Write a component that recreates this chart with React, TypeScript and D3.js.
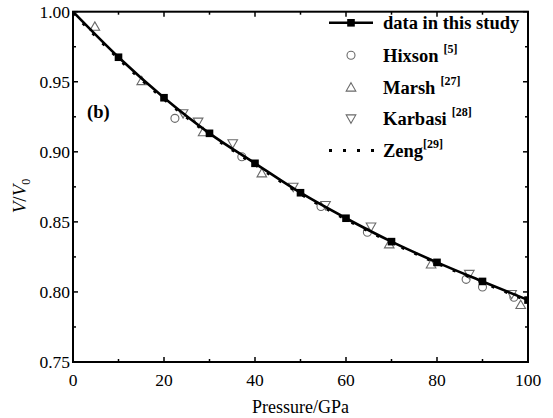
import React from "react";
import * as d3 from "d3";

const studyP = [0, 10, 20, 30, 40, 50, 60, 70, 80, 90, 100];
const studyV = [1.0, 0.9675, 0.9386, 0.9132, 0.8918, 0.8708, 0.8526, 0.8359, 0.8211, 0.8075, 0.7942];

const zengP = [0, 10, 20, 30, 40, 50, 60, 70, 80, 90, 100];
const zengV = [0.999, 0.9665, 0.9376, 0.9124, 0.8908, 0.8700, 0.8518, 0.8352, 0.8205, 0.8068, 0.7936];

const hixsonP = [22.4, 37.1, 54.5, 64.7, 86.4, 90.0, 96.9];
const hixsonV = [0.9239, 0.8965, 0.861, 0.8426, 0.809, 0.8035, 0.7962];

const marshP = [4.8, 15.1, 28.6, 41.5, 69.5, 78.7, 98.4];
const marshV = [0.9893, 0.9505, 0.914, 0.8847, 0.834, 0.8197, 0.7907];

const karbasiP = [24.2, 27.5, 35.1, 48.4, 55.5, 65.5, 87.1, 96.4];
const karbasiV = [0.9275, 0.9215, 0.906, 0.875, 0.862, 0.8466, 0.8128, 0.7985];

const xTicks = [0, 20, 40, 60, 80, 100];
const xMinor = [10, 30, 50, 70, 90];
const yTicks = [0.75, 0.8, 0.85, 0.9, 0.95, 1.0];
const yMinor = [0.775, 0.825, 0.875, 0.925, 0.975];

const legendItems = [
  { name: "data in this study", sup: "", kind: "study" },
  { name: "Hixson", sup: "[5]", kind: "circle" },
  { name: "Marsh", sup: "[27]", kind: "up" },
  { name: "Karbasi", sup: "[28]", kind: "down" },
  { name: "Zeng", sup: "[29]", kind: "zeng" },
];

const L = 73, R = 528, T = 11.7, B = 362;
const FONT = "'Liberation Serif', 'Times New Roman', Times, serif";
const GREY = "#6a6a6a";
const TS: React.CSSProperties = { fontFamily: FONT };

function Marker({ kind, x, y }: { kind: string; x: number; y: number }) {
  if (kind === "circle") {
    return <circle cx={x} cy={y} r={4} fill="white" stroke={GREY} strokeWidth={1.1} />;
  }
  if (kind === "up") {
    const s = 4.8;
    return (
      <path
        d={`M${x},${y - s} L${x + s},${y + s * 0.75} L${x - s},${y + s * 0.75} Z`}
        fill="white"
        stroke={GREY}
        strokeWidth={1.1}
      />
    );
  }
  if (kind === "down") {
    const s = 4.8;
    return (
      <path
        d={`M${x},${y + s} L${x + s},${y - s * 0.75} L${x - s},${y - s * 0.75} Z`}
        fill="white"
        stroke={GREY}
        strokeWidth={1.1}
      />
    );
  }
  if (kind === "square") {
    return <rect x={x - 3.8} y={y - 3.8} width={7.6} height={7.6} fill="black" />;
  }
  return null;
}

export default function App() {
  const x = d3.scaleLinear().domain([0, 100]).range([L, R]);
  const y = d3.scaleLinear().domain([0.75, 1.0]).range([B, T]);

  const line = d3
    .line<[number, number]>()
    .x((d) => x(d[0]))
    .y((d) => y(d[1]))
    .curve(d3.curveMonotoneX);

  const study: [number, number][] = studyP.map((p, i) => [p, studyV[i]]);
  const zeng: [number, number][] = zengP.map((p, i) => [p, zengV[i]]);

  const lx0 = 329, lx1 = 373, lmx = 351, ltx = 383;
  const lb = [29.3, 61.7, 94, 125, 157];

  return (
    <svg
      width={553}
      height={418}
      style={{ position: "absolute", left: 0, top: 0, background: "white", fontFamily: FONT }}
    >
      <rect x={0} y={0} width={553} height={418} fill="white" />
      <defs>
        <clipPath id="plot">
          <rect x={L} y={T} width={R - L} height={B - T} />
        </clipPath>
      </defs>

      {/* data */}
      <g clipPath="url(#plot)">
        {hixsonP.map((p, i) => (
          <Marker key={"h" + i} kind="circle" x={x(p)} y={y(hixsonV[i])} />
        ))}
        {marshP.map((p, i) => (
          <Marker key={"m" + i} kind="up" x={x(p)} y={y(marshV[i])} />
        ))}
        {karbasiP.map((p, i) => (
          <Marker key={"k" + i} kind="down" x={x(p)} y={y(karbasiV[i])} />
        ))}
        <path d={line(zeng) || ""} fill="none" stroke="black" strokeWidth={3} strokeDasharray="3,11" />
        <path d={line(study) || ""} fill="none" stroke="black" strokeWidth={2.6} />
        {studyP.map((p, i) =>
          p === 0 ? null : <Marker key={"s" + i} kind="square" x={x(p)} y={y(studyV[i])} />
        )}
      </g>

      {/* frame */}
      <rect x={L} y={T} width={R - L} height={B - T} fill="none" stroke="black" strokeWidth={2} />

      {/* x ticks */}
      {xTicks.map((t) => (
        <g key={"xt" + t}>
          <line x1={x(t)} x2={x(t)} y1={B} y2={B - 5} stroke="black" strokeWidth={1.5} />
          <line x1={x(t)} x2={x(t)} y1={T} y2={T + 5} stroke="black" strokeWidth={1.5} />
          <text x={x(t)} y={386} textAnchor="middle" fontSize={17.5} style={TS}>
            {t}
          </text>
        </g>
      ))}
      {xMinor.map((t) => (
        <g key={"xm" + t}>
          <line x1={x(t)} x2={x(t)} y1={B} y2={B - 3} stroke="black" strokeWidth={1.5} />
          <line x1={x(t)} x2={x(t)} y1={T} y2={T + 3} stroke="black" strokeWidth={1.5} />
        </g>
      ))}

      {/* y ticks */}
      {yTicks.map((t) => (
        <g key={"yt" + t}>
          <line x1={L} x2={L + 5} y1={y(t)} y2={y(t)} stroke="black" strokeWidth={1.5} />
          <line x1={R} x2={R - 5} y1={y(t)} y2={y(t)} stroke="black" strokeWidth={1.5} />
          <text x={70} y={y(t) + 6} textAnchor="end" fontSize={17.5} style={TS}>
            {t.toFixed(2)}
          </text>
        </g>
      ))}
      {yMinor.map((t) => (
        <g key={"ym" + t}>
          <line x1={L} x2={L + 3} y1={y(t)} y2={y(t)} stroke="black" strokeWidth={1.5} />
          <line x1={R} x2={R - 3} y1={y(t)} y2={y(t)} stroke="black" strokeWidth={1.5} />
        </g>
      ))}

      {/* axis titles */}
      <text x={(L + R) / 2} y={413} textAnchor="middle" fontSize={18} style={TS}>
        Pressure/GPa
      </text>
      <text transform="translate(26,196) rotate(-90)" textAnchor="middle" fontSize={19} style={TS}>
        <tspan fontStyle="italic">V</tspan>
        <tspan>/</tspan>
        <tspan fontStyle="italic">V</tspan>
        <tspan fontSize={12} dy={4}>0</tspan>
      </text>

      {/* panel label */}
      <text x={87} y={118} fontSize={18.5} fontWeight="bold" style={TS}>
        (b)
      </text>

      {/* legend */}
      {legendItems.map((it, i) => {
        const cy = lb[i] - 6.5;
        return (
          <g key={"lg" + i}>
            {it.kind === "study" && (
              <g>
                <line x1={lx0} x2={lx1} y1={cy} y2={cy} stroke="black" strokeWidth={2.6} />
                <Marker kind="square" x={lmx} y={cy} />
              </g>
            )}
            {(it.kind === "circle" || it.kind === "up" || it.kind === "down") && (
              <Marker kind={it.kind} x={lmx} y={cy} />
            )}
            {it.kind === "zeng" && (
              <line
                x1={lx0}
                x2={lx1 + 2}
                y1={cy}
                y2={cy}
                stroke="black"
                strokeWidth={3}
                strokeDasharray="3,11"
              />
            )}
            <text x={ltx} y={lb[i]} fontSize={18.5} fontWeight="bold" style={TS}>
              {it.name}
              {it.sup && (
                <tspan fontSize={12} dy={-9} dx={it.kind === "zeng" ? 0 : 5}>
                  {it.sup}
                </tspan>
              )}
            </text>
          </g>
        );
      })}
    </svg>
  );
}
